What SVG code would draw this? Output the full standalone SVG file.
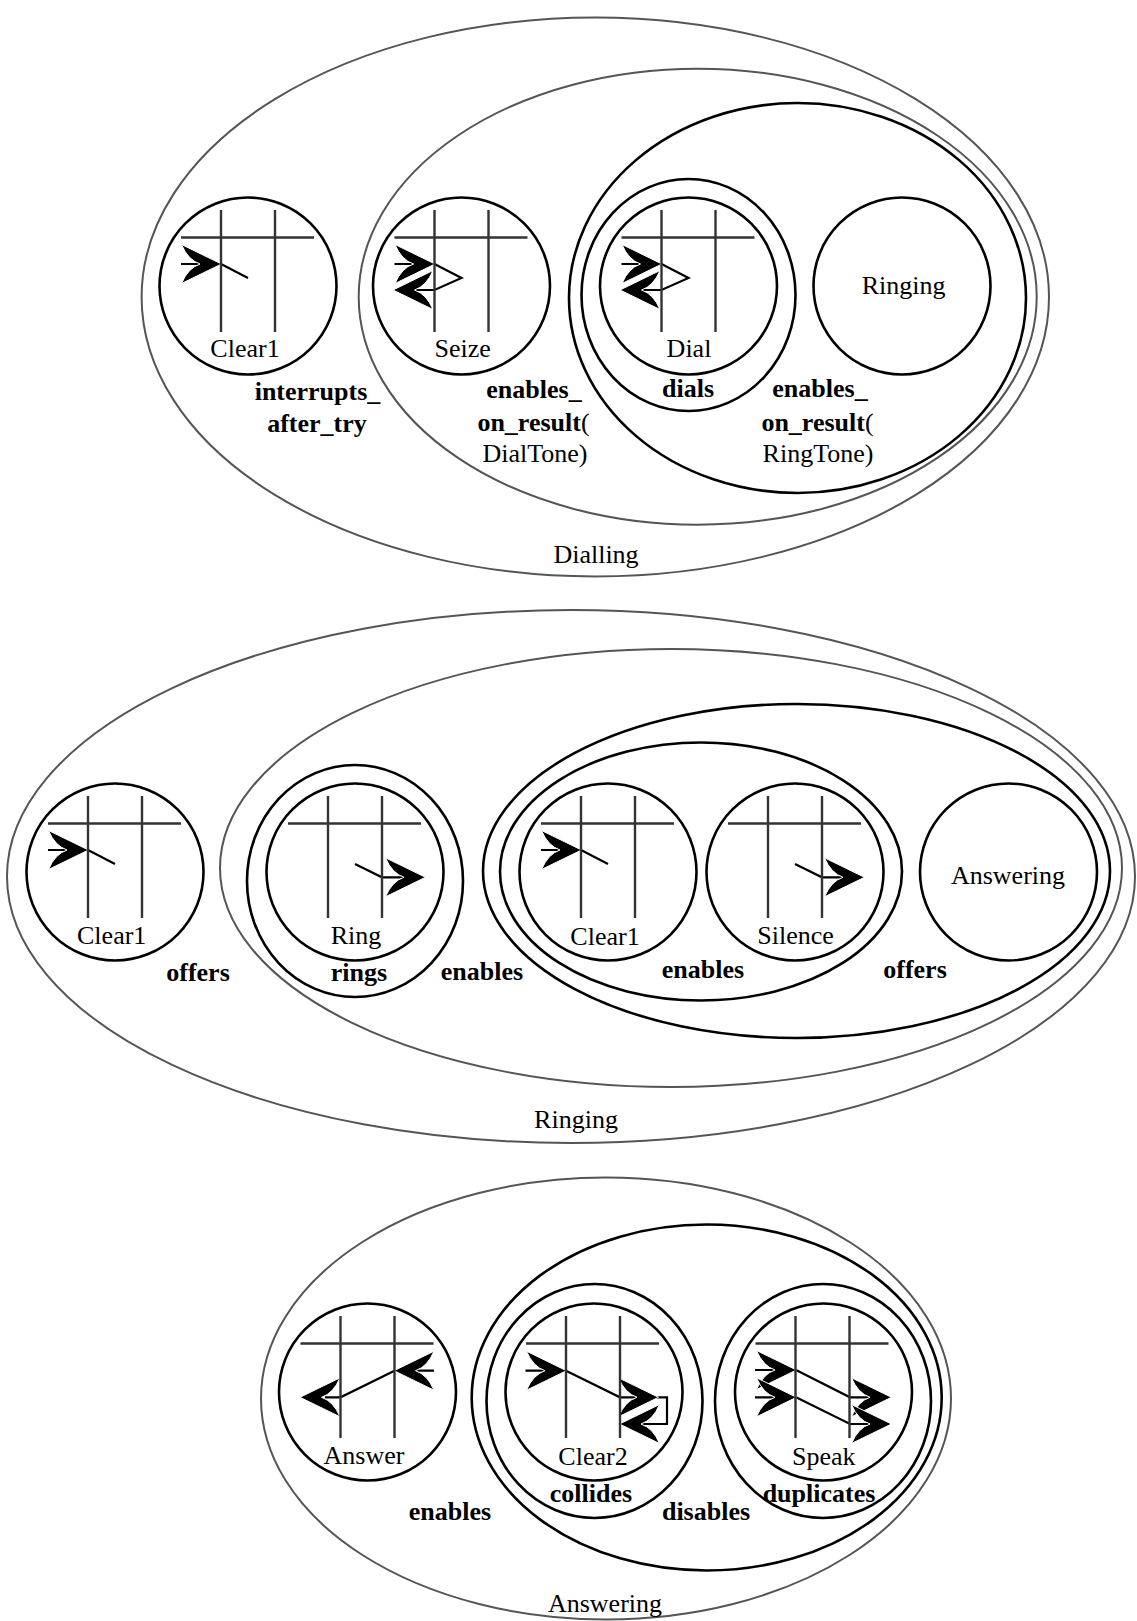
<svg xmlns="http://www.w3.org/2000/svg" xmlns:xlink="http://www.w3.org/1999/xlink" width="1137" height="1621" viewBox="0 0 1137 1621">
<style>
.g{fill:none;stroke:#555;stroke-width:2}
.k{fill:none;stroke:#000;stroke-width:2.6}
.l{fill:none;stroke:#000;stroke-width:2.2}
.t{fill:none;stroke:#333;stroke-width:2.4}
.ah{fill:#000;stroke:#fff;stroke-width:1}
text{font-family:"Liberation Serif","Times New Roman",serif;font-size:26px;text-anchor:middle;fill:#000}
.b{font-weight:bold}
.r{font-weight:normal}
</style>
<defs>
<path id="ah" class="ah" d="M0.5,0 L-39.5,-19.5 Q-33,-4 -21,0 Q-33,4 -39.5,19.5 Z"/>
<path id="tbl" class="t" d="M-67,-48.5 H66 M-27,-76 V46 M27,-76 V46"/>
</defs>
<rect width="1137" height="1621" fill="#fff"/>

<!-- ===== Dialling ===== -->
<g id="Dialling">
<ellipse class="g" cx="595.3" cy="297" rx="453.7" ry="279.5"/>
<text x="596" y="563">Dialling</text>
<text class="b" x="317.5" y="400">interrupts_</text>
<text class="b" x="317" y="431.7">after_try</text>
</g>
<g id="Dialling_enables">
<ellipse class="g" cx="697.7" cy="296.7" rx="339" ry="228"/>
<text class="b" x="534" y="398">enables_</text>
<text class="b" x="533.5" y="430.7">on_result<tspan class="r">(</tspan></text>
<text x="535" y="461.7">DialTone)</text>
</g>
<g id="Dialling_enables2">
<ellipse class="k" cx="797.5" cy="298" rx="228.5" ry="195"/>
<text class="b" x="820" y="396.7">enables_</text>
<text class="b" x="817.5" y="430.7">on_result<tspan class="r">(</tspan></text>
<text x="818" y="461.7">RingTone)</text>
</g>

<g id="Clear1_top">
<path class="l" d="M181,264 H205 M221,264 L248,278"/>
<use xlink:href="#ah" href="#ah" transform="translate(221,264)"/>
<use xlink:href="#tbl" href="#tbl" transform="translate(248,286)"/>
<circle class="k" cx="248" cy="286" r="88.5"/>
<text x="245" y="357">Clear1</text>
</g>

<g id="Seize">
<path class="l" d="M394.5,264 H418 M434.5,264 L461.5,278 L434.5,290 H410"/>
<use xlink:href="#ah" href="#ah" transform="translate(434.5,264)"/>
<use xlink:href="#ah" href="#ah" transform="translate(393.5,290) scale(-1,1)"/>
<use xlink:href="#tbl" href="#tbl" transform="translate(461.5,286)"/>
<circle class="k" cx="461.5" cy="286" r="88.5"/>
<text x="462.7" y="357">Seize</text>
</g>

<g id="Dial">
<ellipse class="k" cx="688.5" cy="295" rx="107" ry="116"/>
<path class="l" d="M621.5,264 H645 M661.5,264 L688.5,278 L661.5,290 H637"/>
<use xlink:href="#ah" href="#ah" transform="translate(661.5,264)"/>
<use xlink:href="#ah" href="#ah" transform="translate(620.5,290) scale(-1,1)"/>
<use xlink:href="#tbl" href="#tbl" transform="translate(688.5,286)"/>
<circle class="k" cx="688.5" cy="286" r="88.5"/>
<text x="689" y="357">Dial</text>
<text class="b" x="688" y="396.7">dials</text>
</g>

<g id="Ringing_top">
<circle class="k" cx="902" cy="286" r="88.5"/>
<text x="903.6" y="294">Ringing</text>
</g>

<!-- ===== Ringing ===== -->
<g id="Ringing">
<ellipse class="g" cx="571" cy="876.5" rx="564" ry="266.5"/>
<text x="576" y="1128">Ringing</text>
<text class="b" x="198" y="980.7">offers</text>
</g>
<g id="Ringing_enables">
<ellipse class="g" cx="671" cy="868" rx="451" ry="219"/>
<text class="b" x="482" y="980">enables</text>
</g>
<g id="Ringing_offers">
<ellipse class="k" cx="796.5" cy="871" rx="313.5" ry="167"/>
<text class="b" x="915" y="978.3">offers</text>
</g>
<g id="Ringing_enables2">
<ellipse class="k" cx="701" cy="871.5" rx="201" ry="129"/>
<text class="b" x="703" y="978.3">enables</text>
</g>

<g id="Clear1_mid_left">
<path class="l" d="M48,850 H72 M88,850 L115,864"/>
<use xlink:href="#ah" href="#ah" transform="translate(88,850)"/>
<use xlink:href="#tbl" href="#tbl" transform="translate(115,872)"/>
<circle class="k" cx="115" cy="872" r="88.5"/>
<text x="111.7" y="944">Clear1</text>
</g>

<g id="Ring">
<ellipse class="k" cx="355" cy="881" rx="108" ry="116"/>
<path class="l" d="M355,864 L382,877.3 H405"/>
<use xlink:href="#ah" href="#ah" transform="translate(425,877.3)"/>
<use xlink:href="#tbl" href="#tbl" transform="translate(355,872)"/>
<circle class="k" cx="355" cy="872" r="88.5"/>
<text x="356" y="944">Ring</text>
<text class="b" x="359" y="980.7">rings</text>
</g>

<g id="Clear1_mid">
<path class="l" d="M541,850 H565 M581,850 L608,864"/>
<use xlink:href="#ah" href="#ah" transform="translate(581,850)"/>
<use xlink:href="#tbl" href="#tbl" transform="translate(608,872)"/>
<circle class="k" cx="608" cy="872" r="88.5"/>
<text x="605" y="945">Clear1</text>
</g>

<g id="Silence">
<path class="l" d="M795,864 L822,877.3 H845"/>
<use xlink:href="#ah" href="#ah" transform="translate(864,877.3)"/>
<use xlink:href="#tbl" href="#tbl" transform="translate(795,872)"/>
<circle class="k" cx="795" cy="872" r="88.5"/>
<text x="795.6" y="944">Silence</text>
</g>

<g id="Answering_mid">
<circle class="k" cx="1008.5" cy="872" r="88.5"/>
<text x="1008" y="884">Answering</text>
</g>

<!-- ===== Answering ===== -->
<g id="Answering">
<ellipse class="g" cx="606" cy="1398.5" rx="345" ry="221"/>
<text x="605" y="1611.7">Answering</text>
<text class="b" x="450" y="1520">enables</text>
</g>
<g id="Answering_disables">
<ellipse class="k" cx="706.7" cy="1397.5" rx="235" ry="173"/>
<text class="b" x="706" y="1520">disables</text>
</g>

<g id="Answer">
<path class="l" d="M434,1370.7 H410 M394.5,1370.7 L340.5,1397.3 H325"/>
<use xlink:href="#ah" href="#ah" transform="translate(394.5,1370.7) scale(-1,1)"/>
<use xlink:href="#ah" href="#ah" transform="translate(300.5,1397.3) scale(-1,1)"/>
<use xlink:href="#tbl" href="#tbl" transform="translate(367.5,1392)"/>
<circle class="k" cx="367.5" cy="1392" r="88.5"/>
<text x="364" y="1464.3">Answer</text>
</g>

<g id="Clear2">
<ellipse class="k" cx="594.5" cy="1401" rx="108" ry="117"/>
<path class="l" d="M525.5,1370.7 H550 M566,1370.7 L620,1397.3 H640 M650,1397.3 H667 V1424 H640"/>
<use xlink:href="#ah" href="#ah" transform="translate(566,1370.7)"/>
<use xlink:href="#ah" href="#ah" transform="translate(658,1397.3)"/>
<use xlink:href="#ah" href="#ah" transform="translate(620,1424) scale(-1,1)"/>
<use xlink:href="#tbl" href="#tbl" transform="translate(593,1392)"/>
<circle class="k" cx="594" cy="1392" r="88.5"/>
<text x="593" y="1465">Clear2</text>
<text class="b" x="591" y="1501.7">collides</text>
</g>

<g id="Speak">
<ellipse class="k" cx="823" cy="1401" rx="108" ry="117"/>
<path class="l" d="M755,1370 H780 M755,1397.3 H780 M796,1370 L850,1397.3 H872 M796,1397.3 L850,1424 H872"/>
<use xlink:href="#ah" href="#ah" transform="translate(796,1370)"/>
<use xlink:href="#ah" href="#ah" transform="translate(796,1397.3)"/>
<use xlink:href="#ah" href="#ah" transform="translate(891,1397.3)"/>
<use xlink:href="#ah" href="#ah" transform="translate(891,1424)"/>
<use xlink:href="#tbl" href="#tbl" transform="translate(822.5,1392)"/>
<circle class="k" cx="823.5" cy="1392" r="88.5"/>
<text x="823.7" y="1465">Speak</text>
<text class="b" x="819" y="1501.7">duplicates</text>
</g>

<g id="connectors"></g>
</svg>
